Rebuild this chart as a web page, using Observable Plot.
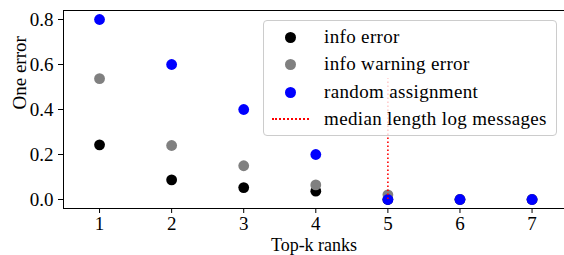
<!DOCTYPE html>
<html>
<head>
<meta charset="utf-8">
<script src="https://cdn.jsdelivr.net/npm/d3@7"></script>
<script src="https://cdn.jsdelivr.net/npm/@observablehq/plot@0.6"></script>
<style>
  html, body { margin: 0; padding: 0; background: #fff; }
  #wrap { position: relative; width: 564px; height: 255px; font-family: "Liberation Serif", "Times New Roman", serif; }
  #legend { position: absolute; left: 263px; top: 20px; width: 294px; height: 116px;
    border: 1px solid #cccccc; border-radius: 4px; background: rgba(255,255,255,0.8); box-sizing: border-box; }
  .row { position: absolute; left: 0; height: 20px; display: flex; align-items: center; }
  .mk { position: absolute; left: 21px; width: 11px; height: 11px; border-radius: 50%; }
  .ln { position: absolute; left: 8px; width: 37px; height: 0; border-top: 2px dotted red; }
  .lb { position: absolute; left: 60px; white-space: nowrap; font-size: 19px; color: #000; line-height: 20px; letter-spacing: 0.35px; }
</style>
</head>
<body>
<div id="wrap"></div>
<script>
// ---- data ----
const ranks = [1, 2, 3, 4, 5, 6, 7];
const infoError = [0.243, 0.087, 0.053, 0.037, 0.0, 0.0, 0.0];
const infoWarningError = [0.537, 0.24, 0.15, 0.065, 0.021, 0.0, 0.0];
const randomAssignment = [0.8, 0.6, 0.4, 0.2, 0.0, 0.0, 0.0];
const seriesNames = ["info error", "info warning error", "random assignment"];
const seriesColors = ["#000000", "#808080", "#0000ff"];
const medianName = "median length log messages";
const medianRank = [5];
const medianTop = [0.537];
const yTicks = [0, 0.2, 0.4, 0.6, 0.8];
const xLabel = "Top-k ranks";
const yLabel = "One error";

const seriesValues = [infoError, infoWarningError, randomAssignment];
const points = [];
seriesValues.forEach((vals, si) => vals.forEach((v, i) => points.push({k: ranks[i], v, s: seriesNames[si]})));
const medianRows = medianRank.map((k, i) => ({k, top: medianTop[i]}));

const font = "Liberation Serif, Times New Roman, serif";

const chart = Plot.plot({
  width: 564,
  height: 255,
  marginLeft: 63,
  marginRight: 0,
  marginTop: 10,
  marginBottom: 47,
  style: {fontFamily: font, fontSize: "19px", color: "#000", background: "#fff"},
  x: {domain: [0.5, 7.45]},
  y: {domain: [-0.04, 0.84]},
  color: {domain: seriesNames, range: seriesColors},
  marks: [
    Plot.axisX({ticks: ranks, tickSize: 5, tickPadding: 3, tickFormat: d => String(d), label: null, fontSize: 19, stroke: "#000"}),
    Plot.axisY({ticks: yTicks, tickSize: 5, tickPadding: 5, tickFormat: d3.format(".1f"), label: null, fontSize: 19, stroke: "#000"}),
    Plot.dot(points, {x: "k", y: "v", fill: "s", r: 5.4}),
    Plot.ruleX(medianRows, {x: "k", y1: 0, y2: "top", stroke: "red", strokeWidth: 1.6, strokeDasharray: "1.6,2.4"}),
    Plot.frame({stroke: "#000", strokeWidth: 1}),
    Plot.text([xLabel], {frameAnchor: "bottom", dy: 37, text: d => d, fontSize: 18, lineAnchor: "middle", style: "letter-spacing:0.9px"}),
    Plot.text([yLabel], {frameAnchor: "left", dx: -44, text: d => d, fontSize: 19, rotate: -90, lineAnchor: "middle"})
  ]
});

const wrap = document.getElementById("wrap");
wrap.appendChild(chart);

// legend overlay
const legend = document.createElement("div");
legend.id = "legend";
const rowTops = [6, 33, 61, 88];
const entries = seriesNames.map((n, i) => ({name: n, color: seriesColors[i], type: "dot"}));
entries.push({name: medianName, color: "red", type: "line"});
entries.forEach((e, i) => {
  const row = document.createElement("div");
  row.className = "row";
  row.style.top = rowTops[i] + "px";
  const m = document.createElement("div");
  if (e.type === "dot") { m.className = "mk"; m.style.background = e.color; m.style.top = "5px"; }
  else { m.className = "ln"; m.style.top = "9px"; }
  row.appendChild(m);
  const t = document.createElement("div");
  t.className = "lb";
  t.textContent = e.name;
  t.style.top = "0px";
  row.appendChild(t);
  legend.appendChild(row);
});
wrap.appendChild(legend);
</script>
</body>
</html>
